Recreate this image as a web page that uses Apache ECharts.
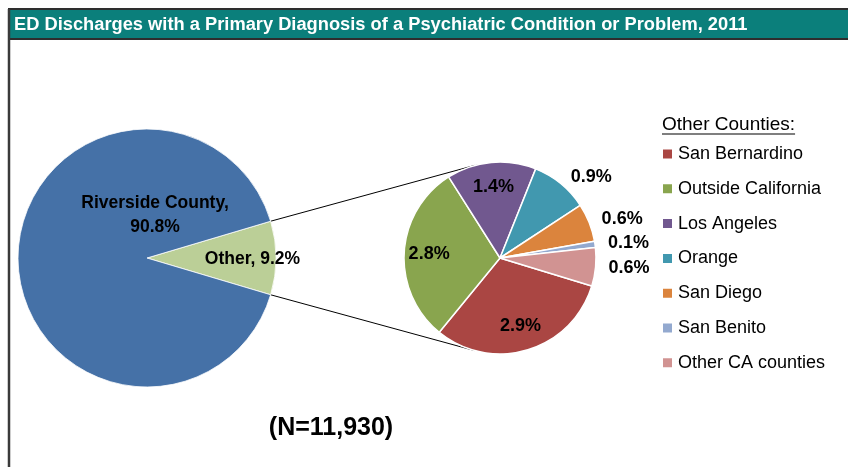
<!DOCTYPE html>
<html>
<head>
<meta charset="utf-8">
<script src="https://cdn.jsdelivr.net/npm/echarts@6/dist/echarts.min.js"></script>
<style>
  html, body { margin: 0; padding: 0; background: #fff; }
  #chart { width: 848px; height: 467px; }
</style>
</head>
<body>
<div id="chart"></div>
<script>
var titleText = 'ED Discharges with a Primary Diagnosis of a Psychiatric Condition or Problem, 2011';
var mainNames = ['Other', 'Riverside County'];
var mainValues = [9.2, 90.8];
var mainColors = ['#bbcf97', '#4571a7'];
var otherNames = ['San Bernardino', 'Outside California', 'Los Angeles', 'Orange', 'San Diego', 'San Benito', 'Other CA counties'];
var otherValues = [2.9, 2.8, 1.4, 0.9, 0.6, 0.1, 0.6];
var otherColors = ['#aa4643', '#89a54e', '#71588f', '#4198af', '#db843d', '#93a9cf', '#d19392'];
var legendTitle = 'Other Counties:';
var noteText = '(N=11,930)';

var FONT = "'Liberation Sans', Arial, sans-serif";
var bigC = [147, 258], bigR = 129;
var smallC = [500, 258], smallR = 96;
var smallStart = -17;

var chart = echarts.init(document.getElementById('chart'), null, { renderer: 'canvas' });

// half of the "Other" wedge, so it sits centred on the right side
var otherHalf = mainValues[0] / (mainValues[0] + mainValues[1]) * 180;

function measure(text, font) {
    var c = document.createElement('canvas').getContext('2d');
    c.font = font;
    return c.measureText(text).width;
}

// connector from the edge of the "Other" wedge, tangent to the small pie
function connector(sign) {
    var a = sign * otherHalf * Math.PI / 180;
    var p = [bigC[0] + bigR * Math.cos(a), bigC[1] - bigR * Math.sin(a)];
    var dx = p[0] - smallC[0], dy = -(p[1] - smallC[1]);
    var d = Math.sqrt(dx * dx + dy * dy);
    var base = Math.atan2(dy, dx);
    var t = base - sign * Math.acos(smallR / d);
    var q = [smallC[0] + smallR * Math.cos(t), smallC[1] - smallR * Math.sin(t)];
    return {
        type: 'line',
        shape: { x1: p[0], y1: p[1], x2: q[0], y2: q[1] },
        style: { stroke: '#000', lineWidth: 1 },
        z: 1
    };
}

var mainData = mainNames.map(function (n, i) {
    var item = { name: n, value: mainValues[i], itemStyle: { color: mainColors[i] } };
    if (i === 0) {
        item.label = { position: 'inside', formatter: '{b}, {c}%', offset: [38, 1] };
    } else {
        item.label = { position: 'center', formatter: '{b},\n{c}%', offset: [8, -43] };
    }
    return item;
});

var smallData = otherNames.map(function (n, i) {
    return { name: n, value: otherValues[i], itemStyle: { color: otherColors[i] } };
});

var labelData = otherNames.map(function (n, i) {
    var inside = otherValues[i] >= 1;
    return {
        name: n,
        value: otherValues[i],
        label: inside ? { position: 'inside' } : { position: 'outside' }
    };
});

var headFont = '19px ' + FONT;
var underlineW = measure(legendTitle, headFont);

var option = {
    backgroundColor: '#fff',
    animation: false,
    legend: {
        orient: 'vertical',
        left: 661,
        top: 145,
        padding: 0,
        itemWidth: 11,
        itemHeight: 11,
        itemGap: 16.8,
        icon: 'rect',
        selectedMode: false,
        data: otherNames,
        textStyle: { fontFamily: FONT, fontSize: 18, color: '#000', lineHeight: 17 }
    },
    graphic: [
        {
            type: 'rect',
            shape: { x: 9, y: 9, width: 850, height: 30 },
            style: { fill: '#0b7f7b', stroke: '#2e2e2e', lineWidth: 2 },
            z: 0
        },
        {
            type: 'line',
            shape: { x1: 9, y1: 9, x2: 9, y2: 467 },
            style: { stroke: '#3a3a3a', lineWidth: 2.5 },
            z: 0
        },
        {
            type: 'text',
            x: 14, y: 25,
            style: {
                text: titleText, fill: '#fff', fontFamily: FONT, fontWeight: 'bold',
                fontSize: 18.3, verticalAlign: 'middle'
            },
            z: 1
        },
        {
            type: 'text',
            x: 662, y: 125,
            style: { text: legendTitle, fill: '#000', font: headFont, verticalAlign: 'middle' },
            z: 1
        },
        {
            type: 'line',
            shape: { x1: 662, y1: 134, x2: 662 + underlineW, y2: 134 },
            style: { stroke: '#000', lineWidth: 1.2 },
            z: 1
        },
        {
            type: 'text',
            x: 331, y: 428,
            style: {
                text: noteText, fill: '#000', fontFamily: FONT, fontWeight: 'bold',
                fontSize: 25, align: 'center', verticalAlign: 'middle'
            },
            z: 1
        },
        connector(1),
        connector(-1)
    ],
    series: [
        {
            type: 'pie',
            center: bigC,
            radius: [0, bigR],
            startAngle: otherHalf,
            clockwise: true,
            avoidLabelOverlap: false,
            silent: true,
            itemStyle: { borderColor: '#fff', borderWidth: 0.8 },
            label: { show: true, color: '#000', fontFamily: FONT, fontWeight: 'bold', fontSize: 17.5, lineHeight: 24 },
            labelLine: { show: false },
            data: mainData
        },
        {
            type: 'pie',
            center: smallC,
            radius: [0, smallR],
            startAngle: smallStart,
            clockwise: true,
            silent: true,
            itemStyle: { borderColor: '#fff', borderWidth: 1.5 },
            label: { show: false },
            labelLine: { show: false },
            data: smallData
        },
        {
            // transparent ring only used to place the value labels
            type: 'pie',
            center: smallC,
            radius: [40, smallR],
            startAngle: smallStart,
            clockwise: true,
            silent: true,
            avoidLabelOverlap: false,
            itemStyle: { color: 'rgba(0,0,0,0)' },
            label: {
                show: true, formatter: '{c}%', color: '#000', fontFamily: FONT,
                fontWeight: 'bold', fontSize: 18
            },
            labelLine: { show: false, length: 8, length2: 0 },
            data: labelData
        }
    ]
};

chart.setOption(option);
</script>
</body>
</html>
